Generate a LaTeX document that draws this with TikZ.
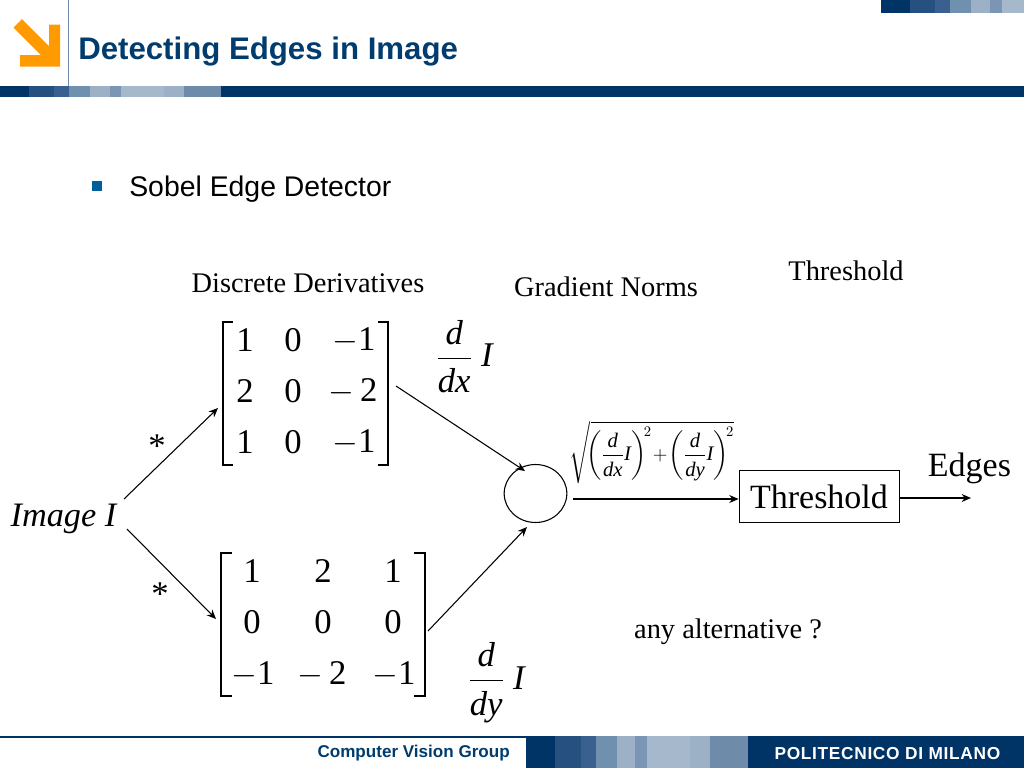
\documentclass[tikz,border=0pt]{standalone}
\usepackage{amsmath,amssymb}
\usepackage{xcolor}
\usepackage{fontspec}
\setmainfont{Liberation Serif}
\setsansfont{Liberation Sans}
\newfontfamily\logofont[LetterSpace=3.8]{Liberation Sans}
\usetikzlibrary{calc,arrows.meta,shapes.geometric}
\definecolor{navy}{HTML}{003366}
\definecolor{titleblue}{HTML}{003C6E}
\definecolor{bulletblue}{HTML}{00609C}
\definecolor{band}{HTML}{25507F}
\definecolor{bandb}{HTML}{3A6090}
\definecolor{bandc}{HTML}{7090B0}
\definecolor{bandd}{HTML}{9CB0C6}
\definecolor{bande}{HTML}{7A96B4}
\definecolor{bandf}{HTML}{A5B8CC}
\definecolor{bandg}{HTML}{6E8CAA}
\definecolor{orangelogo}{HTML}{FF9A00}
\newcommand{\dI}[1]{$\displaystyle\frac{\text{\itshape d}}{\text{\itshape d#1}\rule{0pt}{0.85em}}\,\hspace{0.1em}\text{\itshape I}$}
\newcommand{\dIs}[1]{\displaystyle\frac{\text{\itshape d}}{\text{\itshape d#1}\rule{0pt}{0.85em}}\text{\itshape I}}
\tikzset{
  flow/.style={-{Stealth[length=7pt,width=6pt]}, draw=black, line width=0.8pt},
  lab/.style={text=black, font=\fontsize{21.3}{23}\selectfont, inner sep=0pt},
  entry/.style={text=black, font=\fontsize{26}{28}\selectfont, inner sep=0pt},
  word/.style={text=black, font=\fontsize{25.5}{28}\selectfont, inner sep=0pt},
  brack/.style={draw=black, line width=0.9pt},
  head/.style={font=\sffamily\bfseries\fontsize{23.4}{26}\selectfont, text=titleblue, inner sep=0pt, anchor=west},
  sum/.style={ellipse, draw=black, line width=0.8pt, minimum width=47pt, minimum height=43.5pt, inner sep=0pt}
}
\begin{document}
\begin{tikzpicture}[x=0.75pt,y=-0.75pt]
  \useasboundingbox (0,0) rectangle (1024,768);

  % header bands
  \fill[navy] (0,86) rectangle (1024,97);
  \foreach \a/\b/\c in {29/54/band,54/69/bandb,69/90/bandc,90/110/bandd,110/121/bande,121/147/bandf,147/164/bandf,164/184/bandd,184/221/bandg}
    \fill[\c] (\a,86) rectangle (\b,97);
  \fill[navy] (881,0) rectangle (1024,13);
  \foreach \a/\b/\c in {910/935/band,935/950/bandb,950/971/bandc,971/990/bandd,990/1002/bande,1002/1024/bandf}
    \fill[\c] (\a,0) rectangle (\b,13);
  \draw[bandg, line width=0.9pt] (68.5,0) -- (68.5,86);

  % logo arrow
  \fill[orangelogo] (13.5,27.5) -- (22,19) -- (49,46) -- (49,24.5) -- (60,24.5) -- (60,66.5) -- (20,66.5) -- (20,55) -- (41,55) -- cycle;

  \node[head] (title) at (78,51) {Detecting Edges in Image};

  % bullet
  \fill[bulletblue] (92,181) rectangle (102,191);
  \node[font=\sffamily\fontsize{21.3}{23}\selectfont, inner sep=0pt, anchor=west] (sobel) at (129,189.5) {Sobel Edge Detector};

  % footer
  \fill[navy] (0,736) rectangle (526,738);
  \fill[navy] (526,736) rectangle (1024,768);
  \foreach \a/\b/\c in {555/581/band,581/596/bandb,596/617/bandc,617/635/bandd,635/647/bande,647/673/bandf,673/690/bandf,690/710/bandd,710/748/bandg}
    \fill[\c] (\a,736) rectangle (\b,768);
  \node[font=\sffamily\bfseries\fontsize{12.8}{14}\selectfont, text=titleblue, inner sep=0pt, anchor=east] (group) at (510,753) {Computer Vision Group};
  \node[font=\logofont\bfseries\fontsize{13}{14}\selectfont, text=white, inner sep=0pt, anchor=east] (poli) at (1000.5,754) {POLITECNICO DI MILANO};

  % captions
  \node[lab] (deriv) at (308,283) {Discrete Derivatives};
  \node[lab] (norms) at (606,287) {Gradient Norms};
  \node[lab] (thcap) at (846,270.5) {Threshold};
  \node[lab] (alt) at (728,631.5) {any alternative ?};

  % upper matrix
  \foreach \t/\x/\y in {1/245/340,0/293/340,$-$1/354/340,2/245/391,0/293/391,$-\,$2/353/391,1/245/442,0/293/442,$-$1/354/442}
    \node[entry] at (\x,\y) {\t};
  \draw[brack] (233,322) -- (223,322) -- (223,465) -- (233,465);
  \draw[brack] (378,322) -- (388,322) -- (388,465) -- (378,465);

  % lower matrix
  \foreach \t/\x/\y in {1/252/571,2/323/571,1/393/571,0/252/622,0/323/622,0/393/622,$-$1/253/674,$-\,$2/322/674,$-$1/394/674}
    \node[entry] at (\x,\y) {\t};
  \draw[brack] (232,553) -- (221,553) -- (221,696) -- (232,696);
  \draw[brack] (414,553) -- (425,553) -- (425,696) -- (414,696);

  % derivative labels
  \node[entry] (ddx) at (464.5,356.5) {\dI{x}};
  \node[entry] (ddy) at (496.5,682.5) {\dI{y}};

  % left part
  \node[entry, font=\itshape\fontsize{25.7}{28}\selectfont] (image) at (63.5,519) {Image I};
  \node[entry] (staru) at (157,446) {*};
  \node[entry] (starl) at (160,594) {*};
  \node[sum] (sum) at (535.5,493.5) {};
  \node[draw=black, line width=0.6pt, minimum width=120pt, minimum height=39pt, inner sep=0pt, word] (thresh) at (819,496.5) {Threshold};
  \node[word] (edges) at (969.5,468) {Edges};
  \node[inner sep=0pt, font=\fontsize{15.5}{18}\selectfont] (norm) at (652,452.5) {$\sqrt{\mkern-4mu\left(\dIs{x}\right)^{\!2}\!+\!\left(\dIs{y}\right)^{\!2}}$};

  % connector ends
  \coordinate (iu) at (124,499);
  \coordinate (il) at (127,529);
  \coordinate (mu) at (218,408);
  \coordinate (ml) at (216,619);
  \coordinate (ou) at (396,386);
  \coordinate (ol) at (428,631);
  \coordinate (ru) at (525,471);
  \coordinate (rl) at (527,527);
  \coordinate (sout) at (573,499);
  \coordinate (edge) at (971,498);

  \draw[flow] (iu) -- (mu);
  \draw[flow] (il) -- (ml);
  \draw[flow] (ou) -- (ru);
  \draw[flow] (ol) -- (rl);
  \draw[flow] (sout) -- (thresh.west |- sout);
  \draw[flow] (thresh.east |- edge) -- (edge);
\end{tikzpicture}
\end{document}
